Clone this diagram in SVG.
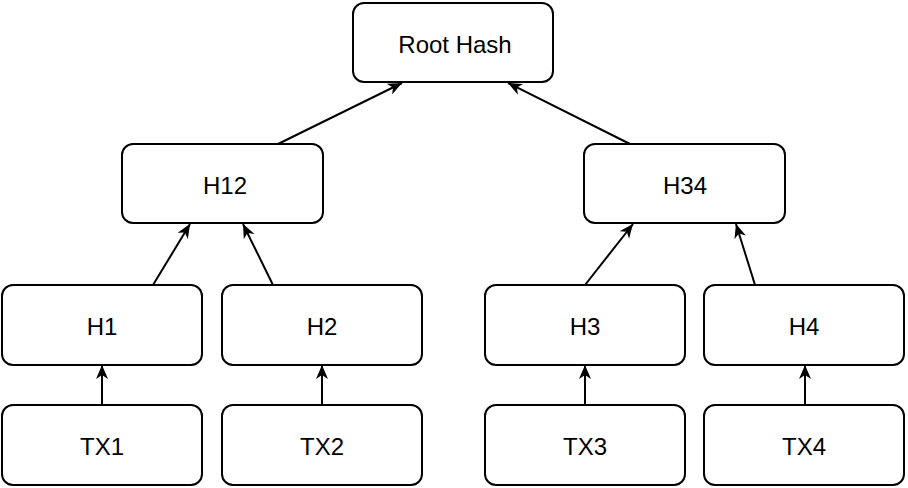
<svg xmlns="http://www.w3.org/2000/svg" width="908" height="488" viewBox="0 0 908 488">
<style>
.box{fill:#ffffff;stroke:#000000;stroke-width:2}
.lbl{font-family:"Liberation Sans",Arial,sans-serif;font-size:24px;fill:#000000;text-anchor:middle;dominant-baseline:central}
.edge{stroke:#000000;stroke-width:2;fill:none;marker-end:url(#arr)}
</style>
<defs>
<marker id="arr" markerUnits="userSpaceOnUse" markerWidth="15" markerHeight="13" refX="14" refY="6.5" orient="auto" viewBox="0 0 15 13">
<path d="M0,0.5 L14,6.5 L0,12.5 L4,6.5 z" fill="#000000"/>
</marker>
</defs>
<rect width="908" height="488" fill="#ffffff"/>
<g id="connectors">
<line class="edge" x1="278" y1="144" x2="402" y2="83"/>
<line class="edge" x1="630" y1="144" x2="508" y2="83"/>
<line class="edge" x1="153" y1="285" x2="190" y2="224"/>
<line class="edge" x1="273" y1="285" x2="243" y2="224"/>
<line class="edge" x1="585" y1="285" x2="633" y2="224"/>
<line class="edge" x1="755" y1="285" x2="736" y2="224"/>
<line class="edge" x1="102" y1="405" x2="102" y2="365"/>
<line class="edge" x1="322" y1="405" x2="322" y2="365"/>
<line class="edge" x1="585" y1="405" x2="585" y2="365"/>
<line class="edge" x1="805" y1="405" x2="805" y2="365"/>
</g>
<g id="root"><rect class="box" x="353" y="3" width="200" height="79" rx="11"/><text class="lbl" x="455" y="44">Root Hash</text></g>
<g id="h12"><rect class="box" x="122" y="144" width="201" height="79" rx="11"/><text class="lbl" x="225" y="185">H12</text></g>
<g id="h34"><rect class="box" x="584" y="144" width="201" height="79" rx="11"/><text class="lbl" x="685" y="185">H34</text></g>
<g id="h1"><rect class="box" x="2" y="285" width="200" height="80" rx="11"/><text class="lbl" x="102" y="326">H1</text></g>
<g id="h2"><rect class="box" x="222" y="285" width="200" height="80" rx="11"/><text class="lbl" x="322" y="326">H2</text></g>
<g id="h3"><rect class="box" x="485" y="285" width="200" height="80" rx="11"/><text class="lbl" x="585" y="326">H3</text></g>
<g id="h4"><rect class="box" x="704" y="285" width="200" height="80" rx="11"/><text class="lbl" x="804" y="326">H4</text></g>
<g id="tx1"><rect class="box" x="2" y="405" width="200" height="80" rx="11"/><text class="lbl" x="102" y="446">TX1</text></g>
<g id="tx2"><rect class="box" x="222" y="405" width="200" height="80" rx="11"/><text class="lbl" x="322" y="446">TX2</text></g>
<g id="tx3"><rect class="box" x="485" y="405" width="200" height="80" rx="11"/><text class="lbl" x="585" y="446">TX3</text></g>
<g id="tx4"><rect class="box" x="704" y="405" width="200" height="80" rx="11"/><text class="lbl" x="804" y="446">TX4</text></g>
</svg>
